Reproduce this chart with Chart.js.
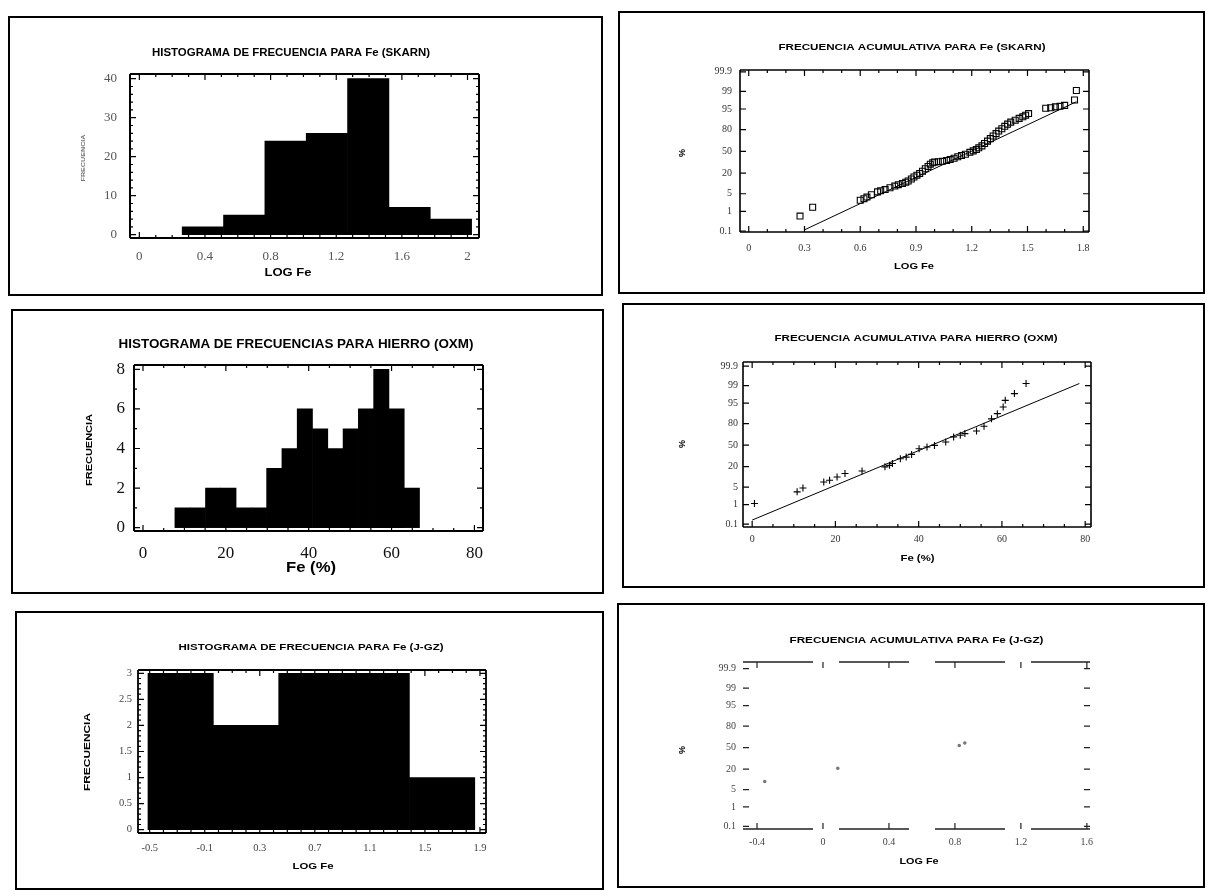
<!DOCTYPE html>
<html>
<head>
<meta charset="utf-8">
<script src="https://cdn.jsdelivr.net/npm/chart.js@4.4.1/dist/chart.umd.min.js"></script>
<style>
html, body { margin: 0; padding: 0; background: #fff; }
body { position: relative; width: 1209px; height: 892px; overflow: hidden; }
canvas { position: absolute; }
.box { position: absolute; border: 2px solid #000; box-sizing: border-box; pointer-events: none; }
</style>
</head>
<body>
<canvas id="c1"></canvas>
<canvas id="c2"></canvas>
<canvas id="c3"></canvas>
<canvas id="c4"></canvas>
<canvas id="c5"></canvas>
<canvas id="c6"></canvas>
<script>
// histograma SKARN (LOG Fe)
const skarnBins = [0.387, 0.639, 0.891, 1.143, 1.395, 1.647, 1.899];
const skarnFreq = [2, 5, 24, 26, 40, 7, 4];
const skarnTicksX = [0, 0.4, 0.8, 1.2, 1.6, 2];
const skarnTicksY = [0, 10, 20, 30, 40];

// histograma HIERRO OXM (Fe %)
const oxmBins = [9.55, 13.24, 16.93, 20.62, 24.31, 28.0, 31.69, 35.38, 39.07, 42.76, 46.45, 50.14, 53.83, 57.52, 61.21, 64.9];
const oxmFreq = [1, 1, 2, 2, 1, 1, 3, 4, 6, 5, 4, 5, 6, 8, 6, 2];
const oxmTicksX = [0, 20, 40, 60, 80];
const oxmTicksY = [0, 2, 4, 6, 8];

// histograma J-GZ (LOG Fe)
const jgzBins = [-0.275, 0.2, 0.675, 1.15, 1.625];
const jgzFreq = [3, 2, 3, 3, 1];
const jgzTicksX = [-0.5, -0.1, 0.3, 0.7, 1.1, 1.5, 1.9];
const jgzTicksY = [0, 0.5, 1, 1.5, 2, 2.5, 3];

// escala de probabilidad (%)
const probTicks = [0.1, 1, 5, 20, 50, 80, 95, 99, 99.9];

// frecuencia acumulativa SKARN
const skarnCumX = [0.276, 0.344, 0.60, 0.62, 0.636, 0.66, 0.693, 0.71, 0.734, 0.76, 0.786, 0.805, 0.827, 0.845, 0.858,
  0.875, 0.889, 0.905, 0.92, 0.935, 0.95, 0.965, 0.977, 0.99, 1.0, 1.02, 1.043, 1.065, 1.084, 1.105, 1.125, 1.145,
  1.166, 1.19, 1.208, 1.225, 1.238, 1.255, 1.269, 1.285, 1.30, 1.315, 1.331, 1.345, 1.362, 1.378, 1.393, 1.41,
  1.434, 1.455, 1.475, 1.49, 1.506, 1.598, 1.625, 1.65, 1.675, 1.70, 1.753, 1.763];
const skarnCumPct = [0.6, 1.5, 2.9, 3.3, 3.8, 4.6, 5.8, 6.3, 6.9, 7.9, 8.9, 9.8, 10.6, 11.6, 12.5,
  14.2, 16, 17.8, 19.5, 22, 25, 28, 31, 33, 34, 34.5, 35, 36.2, 37.5, 39.5, 41.7, 43.6,
  45.6, 48.5, 50.8, 53, 55.5, 58.5, 62, 65.5, 69, 72.5, 75.5, 78.5, 81, 83.5, 85.5, 87.2,
  88.7, 90, 91, 92, 92.9, 95.3, 95.5, 95.8, 96, 96.3, 97.7, 99.1];
const skarnFitX = [0.302, 1.763];
const skarnFitPct = [0.118, 97.3];
const skarnCumTicksX = [0, 0.3, 0.6, 0.9, 1.2, 1.5, 1.8];

// frecuencia acumulativa HIERRO OXM
const oxmCumX = [0.55, 10.8, 12.2, 17.2, 18.6, 20.4, 22.3, 26.4, 31.9, 33.0, 33.7, 35.6, 37.0, 38.3, 40.1,
  42.0, 43.8, 46.5, 48.4, 50.0, 51.1, 53.9, 55.7, 57.5, 58.9, 60.3, 60.8, 63.0, 65.8];
const oxmCumPct = [1.13, 3.4, 4.7, 7.5, 8.5, 10.7, 13.4, 15.6, 19.8, 21.5, 23.6, 29.8, 32, 35.9, 44.4,
  47, 49.6, 54.8, 62.6, 65, 67.4, 70.9, 77, 84.8, 89.1, 93.2, 96, 97.8, 99.2];
const oxmFitX = [0, 78.6];
const oxmFitPct = [0.17, 99.2];
const oxmCumTicksX = [0, 20, 40, 60, 80];

// frecuencia acumulativa J-GZ (casi borrada en el original)
const jgzCumX = [-0.353, 0.09, 0.826, 0.86];
const jgzCumPct = [9.2, 21, 53, 57];
const jgzCumTicksX = [-0.4, 0, 0.4, 0.8, 1.2, 1.6];

// inversa de la normal (Acklam) para el eje de probabilidad
function probit(p) {
  const a = [-39.69683028665376, 220.9460984245205, -275.9285104469687, 138.3577518672690, -30.66479806614716, 2.506628277459239];
  const b = [-54.47609879822406, 161.5858368580409, -155.6989798598866, 66.80131188771972, -13.28068155288572];
  const c = [-0.007784894002430293, -0.3223964580411365, -2.400758277161838, -2.549671010434617, 4.374664141464968, 2.938163982698783];
  const d = [0.007784695709041462, 0.3224671290700398, 2.445134137142996, 3.754408661907416];
  const pl = 0.02425;
  let q, r;
  if (p < pl) {
    q = Math.sqrt(-2 * Math.log(p));
    return (((((c[0]*q+c[1])*q+c[2])*q+c[3])*q+c[4])*q+c[5]) / ((((d[0]*q+d[1])*q+d[2])*q+d[3])*q+1);
  }
  if (p > 1 - pl) {
    q = Math.sqrt(-2 * Math.log(1 - p));
    return -(((((c[0]*q+c[1])*q+c[2])*q+c[3])*q+c[4])*q+c[5]) / ((((d[0]*q+d[1])*q+d[2])*q+d[3])*q+1);
  }
  q = p - 0.5; r = q * q;
  return (((((a[0]*r+a[1])*r+a[2])*r+a[3])*r+a[4])*r+a[5])*q / (((((b[0]*r+b[1])*r+b[2])*r+b[3])*r+b[4])*r+1);
}

const SANS = '"Liberation Sans", Arial, sans-serif';
const SERIF = '"Liberation Serif", "Times New Roman", serif';

function minorValues(s, step) {
  const out = [];
  for (let k = Math.ceil(s.min / step - 1e-9); k * step <= s.max + 1e-9; k++) out.push(k * step);
  return out;
}

// marco del gráfico con marcas hacia dentro en los cuatro lados
const framePlugin = {
  id: 'frame',
  afterDatasetsDraw(chart, args, o) {
    const {ctx, chartArea: a, scales: {x, y}} = chart;
    ctx.save();
    ctx.strokeStyle = o.color || '#000';
    ctx.lineWidth = o.width || 1.5;
    ctx.setLineDash(o.dash || []);
    const sides = o.sides || 'trbl';
    ctx.beginPath();
    if (sides.includes('t')) { ctx.moveTo(a.left, a.top); ctx.lineTo(a.right, a.top); }
    if (sides.includes('b')) { ctx.moveTo(a.left, a.bottom); ctx.lineTo(a.right, a.bottom); }
    if (sides.includes('l')) { ctx.moveTo(a.left, a.top); ctx.lineTo(a.left, a.bottom); }
    if (sides.includes('r')) { ctx.moveTo(a.right, a.top); ctx.lineTo(a.right, a.bottom); }
    ctx.stroke();
    ctx.setLineDash([]);
    ctx.lineWidth = 1.2;
    ctx.beginPath();
    const xt = (v, len) => {
      const p = x.getPixelForValue(v);
      ctx.moveTo(p, a.bottom); ctx.lineTo(p, a.bottom - len);
      ctx.moveTo(p, a.top); ctx.lineTo(p, a.top + len);
    };
    const yt = (v, len) => {
      const p = y.getPixelForValue(v);
      ctx.moveTo(a.left, p); ctx.lineTo(a.left + len, p);
      ctx.moveTo(a.right, p); ctx.lineTo(a.right - len, p);
    };
    x.ticks.forEach(t => xt(t.value, 6));
    y.ticks.forEach(t => yt(t.value, 6));
    if (o.xMinor) minorValues(x, o.xMinor).forEach(v => xt(v, 3));
    if (o.yMinor) minorValues(y, o.yMinor).forEach(v => yt(v, 3));
    ctx.stroke();
    ctx.restore();
  }
};

// títulos y rótulos de ejes
const textPlugin = {
  id: 'texts',
  afterDraw(chart, args, o) {
    const ctx = chart.ctx;
    o.items.forEach(it => {
      ctx.save();
      ctx.font = (it.bold ? 'bold ' : '') + it.size + 'px ' + (it.family || SANS);
      ctx.fillStyle = it.color || '#000';
      ctx.textAlign = 'center';
      ctx.textBaseline = 'middle';
      ctx.translate(it.x - o.box[0], it.y - o.box[1]);
      if (it.rot) ctx.rotate(it.rot * Math.PI / 180);
      if (it.w) {
        const m = ctx.measureText(it.t).width;
        ctx.scale(Math.max(0.6, Math.min(1.6, it.w / m)), 1);
      }
      ctx.fillText(it.t, 0, 0);
      ctx.restore();
    });
  }
};

function place(id, box) {
  const cv = document.getElementById(id);
  cv.width = box[2] - box[0];
  cv.height = box[3] - box[1];
  cv.style.left = box[0] + 'px';
  cv.style.top = box[1] + 'px';
  const d = document.createElement('div');
  d.className = 'box';
  d.style.left = box[0] + 'px';
  d.style.top = box[1] + 'px';
  d.style.width = (box[2] - box[0]) + 'px';
  d.style.height = (box[3] - box[1]) + 'px';
  document.body.appendChild(d);
  return cv;
}

function scaleOpts(p, ax, vertical) {
  return {
    type: 'linear',
    min: ax.min,
    max: ax.max,
    offset: false,
    grid: { display: false, drawTicks: false },
    border: { display: false },
    afterBuildTicks: s => { s.ticks = ax.ticks.map(v => ({ value: v })); },
    afterFit: s => {
      if (vertical) s.width = p.area[0] - p.box[0];
      else s.height = p.box[3] - p.area[3];
    },
    ticks: {
      autoSkip: false,
      maxRotation: 0,
      padding: ax.pad,
      color: ax.color || '#333',
      font: { family: SERIF, size: ax.size },
      callback: ax.labels ? ((v, i) => ax.labels[i]) : (v => String(v))
    }
  };
}

function makeChart(id, p, type, datasets) {
  const cv = place(id, p.box);
  return new Chart(cv.getContext('2d'), {
    type,
    data: { datasets },
    options: {
      responsive: false,
      animation: false,
      layout: { padding: { left: 0, bottom: 0, top: p.area[1] - p.box[1], right: p.box[2] - p.area[2] } },
      scales: { x: scaleOpts(p, p.x, false), y: scaleOpts(p, p.y, true) },
      plugins: {
        legend: { display: false },
        tooltip: { enabled: false },
        frame: p.frame,
        texts: { box: p.box, items: p.texts }
      }
    },
    plugins: [framePlugin, textPlugin]
  });
}

function histo(bins, freq) {
  return [{
    data: bins.map((x, i) => ({ x, y: freq[i] })),
    backgroundColor: '#000',
    borderWidth: 0,
    barThickness: 'flex',
    barPercentage: 1,
    categoryPercentage: 1
  }];
}

function probSets(xs, pcts, fitX, fitPct, style, radius) {
  return [{
    data: xs.map((x, i) => ({ x, y: probit(pcts[i] / 100) })),
    showLine: false,
    pointStyle: style,
    pointRadius: radius,
    borderColor: '#000',
    backgroundColor: 'rgba(0,0,0,0)',
    borderWidth: 1.1
  }, {
    data: fitX.map((x, i) => ({ x, y: probit(fitPct[i] / 100) })),
    showLine: true,
    borderColor: '#000',
    borderWidth: 1,
    pointRadius: 0
  }];
}

const probY = { ticks: probTicks.map(v => probit(v / 100)), labels: probTicks.map(String) };

// 1. histograma SKARN
makeChart('c1', {
  box: [8, 16, 603, 296], area: [130, 74, 479, 238],
  x: { min: -0.057, max: 2.07, ticks: skarnTicksX, pad: 11, size: 13, color: '#555' },
  y: { min: -0.85, max: 41.2, ticks: skarnTicksY, pad: 13, size: 13, color: '#555' },
  frame: { width: 2, xMinor: 0.1, yMinor: 2 },
  texts: [
    { t: 'HISTOGRAMA DE FRECUENCIA PARA Fe (SKARN)', x: 291, y: 53, w: 278, size: 10, bold: true },
    { t: 'LOG Fe', x: 288, y: 273, w: 47, size: 10, bold: true },
    { t: 'FRECUENCIA', x: 83, y: 158, w: 47, size: 6, bold: true, rot: -90, color: '#777' }
  ]
}, 'bar', histo(skarnBins, skarnFreq));

// 2. acumulativa SKARN
makeChart('c2', {
  box: [618, 11, 1205, 294], area: [740, 70, 1089, 232],
  x: { min: -0.047, max: 1.831, ticks: skarnCumTicksX, pad: 10, size: 10 },
  y: Object.assign({ min: -3.13, max: 3.16, pad: 8, size: 10 }, probY),
  frame: { width: 1.6, xMinor: 0.1 },
  texts: [
    { t: 'FRECUENCIA ACUMULATIVA PARA Fe (SKARN)', x: 912, y: 47, w: 267, size: 9.5, bold: true },
    { t: 'LOG Fe', x: 914, y: 267, w: 40, size: 9, bold: true },
    { t: '%', x: 683, y: 153, size: 9, bold: true, rot: -90 }
  ]
}, 'scatter', probSets(skarnCumX, skarnCumPct, skarnFitX, skarnFitPct, 'rect', 4.2));

// 3. histograma HIERRO (OXM)
makeChart('c3', {
  box: [11, 309, 604, 594], area: [134, 365, 483, 531],
  x: { min: -2.17, max: 82.07, ticks: oxmTicksX, pad: 12, size: 17, color: '#111' },
  y: { min: -0.17, max: 8.22, ticks: oxmTicksY, pad: 9, size: 17, color: '#111' },
  frame: { width: 2, xMinor: 5, yMinor: 1 },
  texts: [
    { t: 'HISTOGRAMA DE FRECUENCIAS PARA HIERRO (OXM)', x: 296, y: 345, w: 355, size: 12, bold: true },
    { t: 'Fe (%)', x: 311, y: 568, w: 50, size: 15, bold: true },
    { t: 'FRECUENCIA', x: 89.5, y: 450, w: 72, size: 9, bold: true, rot: -90 }
  ]
}, 'bar', histo(oxmBins, oxmFreq));

// 4. acumulativa HIERRO (OXM)
makeChart('c4', {
  box: [622, 303, 1205, 588], area: [743, 362, 1091, 527],
  x: { min: -2.2, max: 81.4, ticks: oxmCumTicksX, pad: 6, size: 10 },
  y: Object.assign({ min: -3.2, max: 3.25, pad: 5, size: 10 }, probY),
  frame: { width: 1.6, xMinor: 5 },
  texts: [
    { t: 'FRECUENCIA ACUMULATIVA PARA HIERRO (OXM)', x: 916, y: 338, w: 283, size: 9.5, bold: true },
    { t: 'Fe (%)', x: 917.5, y: 559, w: 34, size: 9, bold: true },
    { t: '%', x: 683, y: 444, size: 9, bold: true, rot: -90 }
  ]
}, 'scatter', probSets(oxmCumX, oxmCumPct, oxmFitX, oxmFitPct, 'cross', 3.5));

// 5. histograma J-GZ
makeChart('c5', {
  box: [15, 611, 604, 890], area: [138, 670, 486, 833],
  x: { min: -0.585, max: 1.944, ticks: jgzTicksX, pad: 9, size: 10.5, color: '#444' },
  y: { min: -0.063, max: 3.063, ticks: jgzTicksY, pad: 6, size: 10.5, color: '#444' },
  frame: { width: 1.8, xMinor: 0.1, yMinor: 0.1 },
  texts: [
    { t: 'HISTOGRAMA DE FRECUENCIA PARA Fe (J-GZ)', x: 311, y: 647, w: 265, size: 9.5, bold: true },
    { t: 'LOG Fe', x: 313, y: 867, w: 41, size: 9, bold: true },
    { t: 'FRECUENCIA', x: 87.5, y: 752, w: 78, size: 9.5, bold: true, rot: -90 }
  ]
}, 'bar', histo(jgzBins, jgzFreq));

// 6. acumulativa J-GZ
const c6sets = probSets(jgzCumX, jgzCumPct, [], [], 'circle', 1.2);
c6sets[0].borderColor = '#777';
c6sets[0].backgroundColor = '#777';
makeChart('c6', {
  box: [617, 603, 1205, 888], area: [743, 662, 1090, 829],
  x: { min: -0.485, max: 1.619, ticks: jgzCumTicksX, pad: 7, size: 10, color: '#444' },
  y: Object.assign({ min: -3.19, max: 3.35, pad: 7, size: 10, color: '#444' }, probY),
  frame: { width: 1.6, sides: 'tb', dash: [70, 26], color: '#222' },
  texts: [
    { t: 'FRECUENCIA ACUMULATIVA PARA Fe (J-GZ)', x: 916.5, y: 640, w: 254, size: 9.5, bold: true },
    { t: 'LOG Fe', x: 919, y: 862, w: 39, size: 9, bold: true },
    { t: '%', x: 683, y: 750, size: 9, bold: true, rot: -90 }
  ]
}, 'scatter', c6sets);
</script>
</body>
</html>
